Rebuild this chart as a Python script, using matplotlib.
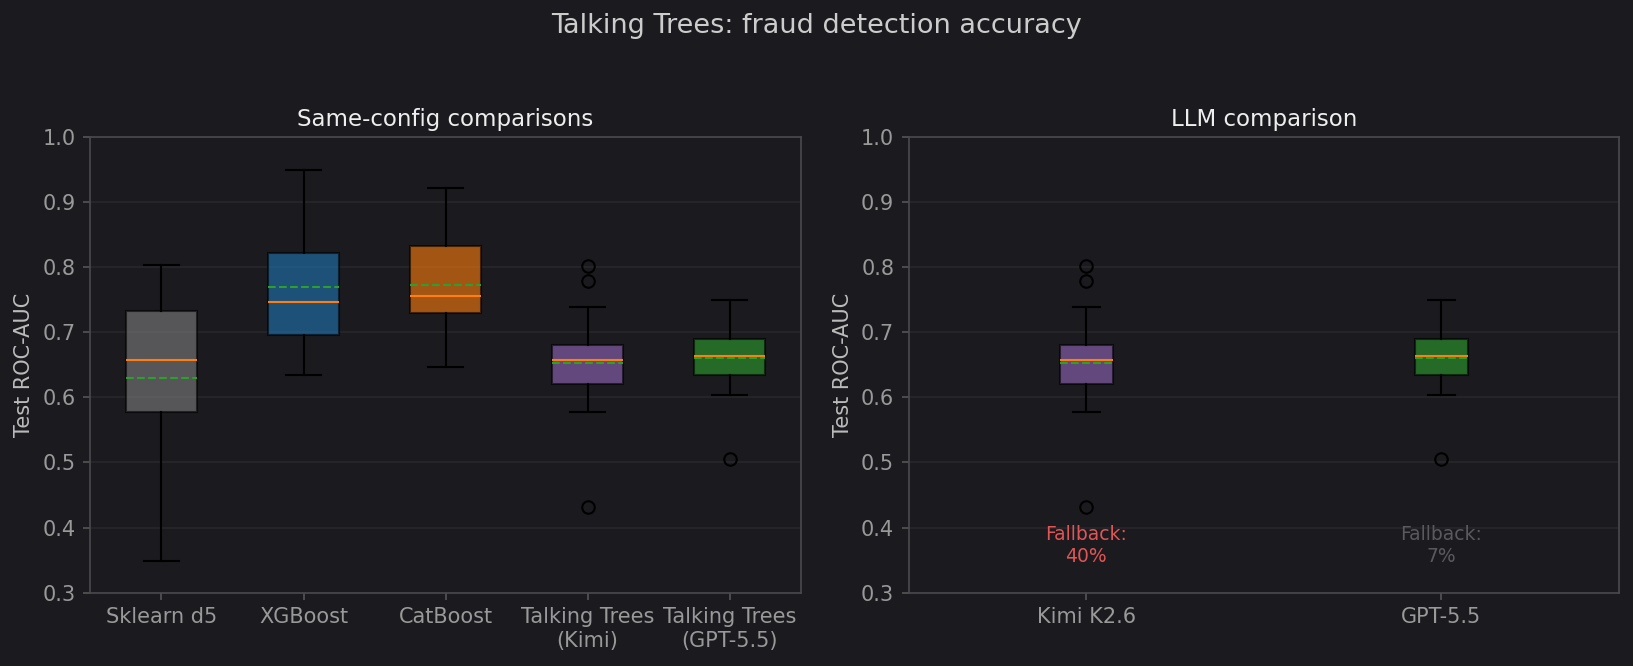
import numpy as np
import matplotlib
matplotlib.use("Agg")
import matplotlib.pyplot as plt

# Box statistics (Test ROC-AUC)
models = ["Sklearn d5", "XGBoost", "CatBoost", "Talking Trees\n(Kimi)", "Talking Trees\n(GPT-5.5)"]
whislo = [0.349, 0.635, 0.647, 0.578, 0.603]
q1 = [0.578, 0.695, 0.729, 0.621, 0.635]
med = [0.658, 0.746, 0.755, 0.658, 0.663]
mean = [0.629, 0.769, 0.773, 0.653, 0.661]
q3 = [0.733, 0.822, 0.832, 0.681, 0.690]
whishi = [0.803, 0.949, 0.921, 0.738, 0.749]
fliers = [[], [], [], [0.802, 0.779, 0.431], [0.505]]
box_colors = ["tab:gray", "tab:blue", "tab:orange", "tab:purple", "tab:green"]

llm_labels = ["Kimi K2.6", "GPT-5.5"]
llm_index = [3, 4]  # same runs as the Talking Trees boxes
fallback = [40, 7]
fallback_colors = ["#e05555", "#5a5a5e"]

BG = "#1b1a1f"
plt.rcParams["font.family"] = "DejaVu Sans"


def make_stats(idx, labels):
    stats = []
    for i, lab in zip(idx, labels):
        stats.append(dict(label=lab, whislo=whislo[i], q1=q1[i], med=med[i],
                          mean=mean[i], q3=q3[i], whishi=whishi[i], fliers=fliers[i]))
    return stats


def style_ax(ax, title):
    ax.set_facecolor(BG)
    ax.set_ylim(0.3, 1.0)
    ax.set_title(title, color="#eeeeee", fontsize=11, pad=5)
    ax.set_ylabel("Test ROC-AUC", color="#bbbbbb", fontsize=10)
    ax.tick_params(colors="#999999", labelsize=10)
    ax.tick_params(axis="both", color="#555555")
    for s in ax.spines.values():
        s.set_color("#4a4a4e")
    ax.yaxis.grid(True, color="#252429", linewidth=1)
    ax.set_axisbelow(True)


fig, (ax1, ax2) = plt.subplots(1, 2, figsize=(10.887, 4.44), dpi=150)
fig.patch.set_facecolor(BG)
fig.subplots_adjust(left=0.0554, right=0.9914, bottom=0.110, top=0.7947, wspace=0.152)

bp1 = ax1.bxp(make_stats(range(5), models), positions=range(1, 6), widths=0.5,
              patch_artist=True, showmeans=True, meanline=True)
for patch, c in zip(bp1["boxes"], box_colors):
    patch.set_facecolor(c)
    patch.set_alpha(0.6)
ax1.set_xlim(0.5, 5.5)
style_ax(ax1, "Same-config comparisons")

bp2 = ax2.bxp(make_stats(llm_index, llm_labels), positions=[1, 2], widths=0.15,
              patch_artist=True, showmeans=True, meanline=True)
for patch, i in zip(bp2["boxes"], llm_index):
    patch.set_facecolor(box_colors[i])
    patch.set_alpha(0.6)
ax2.set_xlim(0.5, 2.5)
style_ax(ax2, "LLM comparison")
for k, (pct, col) in enumerate(zip(fallback, fallback_colors)):
    ax2.text(k + 1, 0.373, f"Fallback:\n{pct}%", ha="center", va="center",
             color=col, fontsize=9)

fig.suptitle("Talking Trees: fraud detection accuracy", color="#cccccc", fontsize=13, y=0.98)

plt.savefig("out.png", dpi=150, facecolor=BG)
